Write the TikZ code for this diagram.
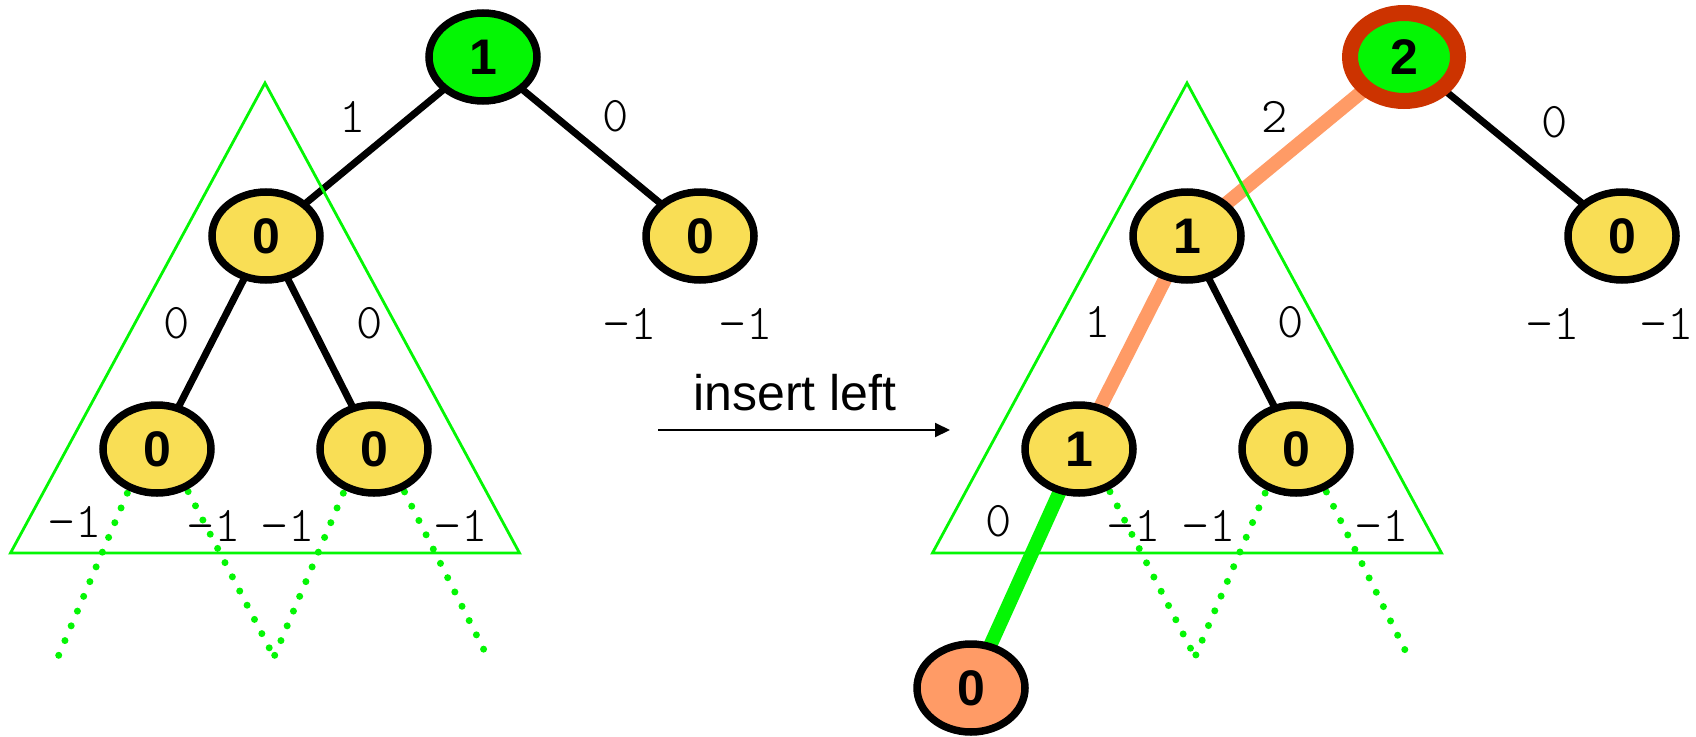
\documentclass[tikz,border=0pt]{standalone}
\usepackage{fontspec}
\setmainfont{Liberation Sans}
\newfontfamily\thinmono{Latin Modern Mono Light}
\usepackage{tikz}
\usetikzlibrary{positioning,arrows.meta,shapes.geometric}
\definecolor{avlgreen}{RGB}{4,246,4}
\definecolor{avlyellow}{RGB}{249,222,85}
\definecolor{avlorange}{RGB}{255,155,102}
\definecolor{avlred}{RGB}{204,51,0}
\pgfdeclarelayer{edges}
\pgfdeclarelayer{guides}
\pgfsetlayers{edges,guides,main}
\tikzset{
  avlnode/.style={ellipse, draw=black, line width=7.5pt, fill=avlyellow,
    minimum width=108pt, minimum height=88pt, inner sep=0pt,
    font=\fontsize{50}{60}\selectfont\bfseries},
  rootnode/.style={avlnode, fill=avlgreen},
  newnode/.style={avlnode, fill=avlorange},
  unbalanced/.style={draw=avlred, line width=16pt},
  link/.style={line width=7pt, draw=black},
  pathlink/.style={line width=14pt, draw=avlorange},
  newlink/.style={line width=14pt, draw=avlgreen},
  subtree/.style={draw=avlgreen, line width=2.8pt},
  nullptr/.style={draw=avlgreen, line width=7pt, line cap=round,
    dash pattern=on 0pt off 16pt},
  height/.style={font=\thinmono\fontsize{50}{60}\selectfont, inner sep=0pt},
  caption/.style={font=\fontsize{50}{60}\selectfont, anchor=base},
  move/.style={-{Triangle[length=15pt,width=14pt]}, line width=2pt}
}

\begin{document}
\begin{tikzpicture}[x=1pt,y=-1pt]
  \useasboundingbox (0,0) rectangle (1696,736);

  % tree before the insertion
  \node[rootnode] (r1) at (483,57) {1};
  \node[avlnode] (a) at (266,236) {0};
  \node[avlnode] (b) at (700,236) {0};
  \node[avlnode] (c) at (157,449) {0};
  \node[avlnode] (d) at (374,449) {0};

  % tree after the insertion
  \node[rootnode, unbalanced] (r2) at (1404,57) {2};
  \node[avlnode] (e) at (1187,236) {1};
  \node[avlnode] (f) at (1622,236) {0};
  \node[avlnode] (g) at (1079,449) {1};
  \node[avlnode] (h) at (1296,449) {0};
  \node[newnode] (new) at (971,688) {0};

  \begin{pgfonlayer}{edges}
    \draw[link] (r1.center) -- (a.center);
    \draw[link] (r1.center) -- (b.center);
    \draw[link] (a.center) -- (c.center);
    \draw[link] (a.center) -- (d.center);
    \draw[pathlink] (r2.center) -- (e.center);
    \draw[link] (r2.center) -- (f.center);
    \draw[pathlink] (e.center) -- (g.center);
    \draw[link] (e.center) -- (h.center);
    \draw[newlink] (g.center) -- (new.center);
  \end{pgfonlayer}

  % subtree outlines and empty children
  \coordinate (c0) at (58,657);
  \coordinate (cd) at (274,657);
  \coordinate (d1) at (484,650);
  \coordinate (gh) at (1195,657);
  \coordinate (h1) at (1405,650);
  \begin{pgfonlayer}{guides}
    \draw[subtree] (265,83) -- (10.5,553) -- (519.5,553) -- cycle;
    \draw[subtree] (1187,83) -- (932.5,553) -- (1441.5,553) -- cycle;
    \draw[nullptr] ([xshift=-11pt]c.center) -- (c0);
    \draw[nullptr] ([xshift=9pt]c.center) -- (cd);
    \draw[nullptr] ([xshift=-12pt]d.center) -- (cd);
    \draw[nullptr] ([xshift=9pt]d.center) -- (d1);
    \draw[nullptr] ([xshift=9pt]g.center) -- (gh);
    \draw[nullptr] ([xshift=-12pt]h.center) -- (gh);
    \draw[nullptr] ([xshift=9pt]h.center) -- (h1);
  \end{pgfonlayer}

  % subtree heights
  \node[height] (ha) at (353,117) {1};
  \node[height] (hb) at (616,116) {0};
  \node[height] (hc) at (177,323) {0};
  \node[height] (hd) at (370,323) {0};
  \node[height] (hbl) at (630,324) {−1};
  \node[height] (hbr) at (746,324) {−1};
  \node[height] (hcl) at (75,522) {−1};
  \node[height] (hcr) at (214,526) {−1};
  \node[height] (hdl) at (288,526) {−1};
  \node[height] (hdr) at (461,526) {−1};

  \node[height] (he) at (1275,117) {2};
  \node[height] (hf) at (1555,122) {0};
  \node[height] (hg) at (1098,322) {1};
  \node[height] (hh) at (1291,322) {0};
  \node[height] (hfl) at (1553,324) {−1};
  \node[height] (hfr) at (1667,324) {−1};
  \node[height] (hgl) at (999,521) {0};
  \node[height] (hgr) at (1134,526) {−1};
  \node[height] (hhl) at (1209,526) {−1};
  \node[height] (hhr) at (1382,526) {−1};

  % the step between both trees
  \node[caption] (step) at (795,410) {insert left};
  \coordinate (from) at (658,430);
  \coordinate (to) at (950,430);
  \draw[move] (from) -- (to);
\end{tikzpicture}
\end{document}
